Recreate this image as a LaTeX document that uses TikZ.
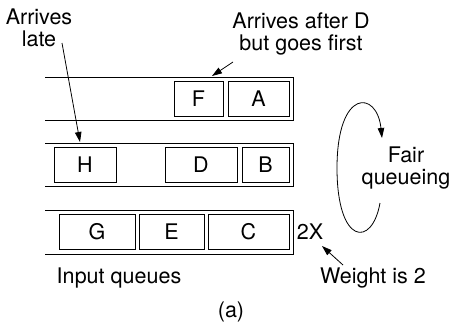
\documentclass[tikz,border=0pt]{standalone}
\usepackage{fontspec}
\setmainfont{TeX Gyre Heros}
\usetikzlibrary{arrows.meta}

\begin{document}
\begin{tikzpicture}[x=1pt, y=-1pt, line width=0.9pt,
    pkt/.style={draw, line width=0.8pt, minimum height=35pt, inner sep=0pt, font=\fontsize{21.5}{23}\selectfont},
    lbl/.style={align=center, inner sep=0pt, font=\fontsize{21.5}{22.5}\selectfont},
    arr/.style={-{Triangle[length=10pt,width=6.5pt]}, line width=0.8pt}]
    \useasboundingbox (0,0) rectangle (452,324);

    % Input queues, open at the left end
    \draw (45,77) -- (293,77) -- (293,120) -- (45,120);
    \draw (45,143) -- (293,143) -- (293,186) -- (45,186);
    \draw (45,210) -- (293,210) -- (293,254) -- (45,254);

    % Packets
    \node[pkt, minimum width=49pt] (F) at (198.5,99) {F};
    \node[pkt, minimum width=61pt] (A) at (258.5,99) {A};
    \node[pkt, minimum width=62pt] (H) at (85,164.5) {H};
    \node[pkt, minimum width=72pt] (D) at (201,164.5) {D};
    \node[pkt, minimum width=47pt] (B) at (265.5,164.5) {B};
    \node[pkt, minimum width=76pt] (G) at (97,231.5) {G};
    \node[pkt, minimum width=65pt] (E) at (171.5,231.5) {E};
    \node[pkt, minimum width=81pt] (C) at (248.5,231.5) {C};

    % Labels
    \node[lbl] (late) at (39,28) {Arrives\\late};
    \node[lbl] (first) at (301,34) {Arrives after D\\but goes first};
    \node[lbl] (fair) at (406,168) {Fair\\queueing};
    \node[lbl] (twox) at (310,232) {2X};
    \node[lbl] (weight) at (373,278) {Weight is 2};
    \node[lbl] (inq) at (119,278) {Input queues};
    \node[lbl] (cap) at (231,312) {(a)};

    % Pointers
    \coordinate (late-tail) at (62,43);
    \coordinate (q2-top) at (80,142);
    \coordinate (first-tail) at (233,62);
    \coordinate (q1-top) at (212,76);
    \coordinate (weight-tail) at (343,265);
    \coordinate (twox-tip) at (322,246);
    \draw[arr] (late-tail) -- (q2-top);
    \draw[arr] (first-tail) -- (q1-top);
    \draw[arr] (weight-tail) -- (twox-tip);

    % Round robin arrow
    \draw[arr] (380,203) .. controls (372,248) and (337,245) .. (337,168)
        .. controls (337,88) and (377,90) .. (382,138);
\end{tikzpicture}
\end{document}
